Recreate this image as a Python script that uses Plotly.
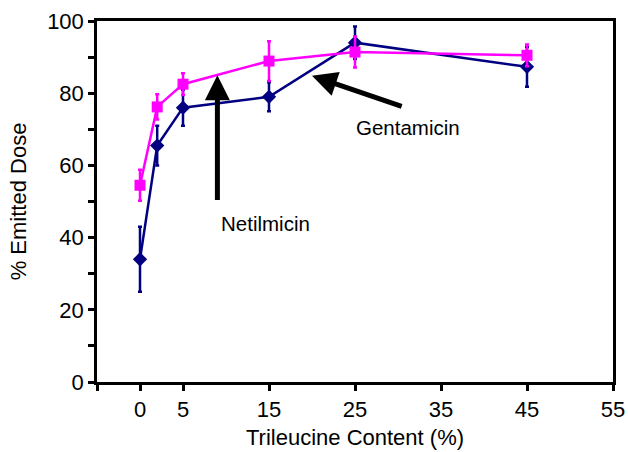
import plotly.graph_objects as go

trileucine = [0, 2, 5, 15, 25, 45]
gentamicin = [34, 65.5, 76, 79, 94, 87.3]
gentamicin_err = [9, 5.5, 5, 4, 4.5, 5.5]
netilmicin = [54.5, 76.2, 82.5, 88.9, 91.4, 90.5]
netilmicin_err = [4.3, 3.5, 3, 5.5, 4.3, 3]

x_tickvals = [-5, 0, 5, 15, 25, 35, 45, 55]
x_ticktext = ["", "0", "5", "15", "25", "35", "45", "55"]

FONT = "Liberation Sans, Arial, sans-serif"

fig = go.Figure()
fig.add_trace(go.Scatter(
    x=trileucine, y=gentamicin, mode="lines+markers", name="Gentamicin",
    line=dict(color="#000080", width=2.5),
    marker=dict(symbol="diamond", size=11, color="#000080"),
    error_y=dict(type="data", array=gentamicin_err, color="#000080", thickness=2.5, width=2),
))
fig.add_trace(go.Scatter(
    x=trileucine, y=netilmicin, mode="lines+markers", name="Netilmicin",
    line=dict(color="#FF00FF", width=2.5),
    marker=dict(symbol="square", size=11, color="#FF00FF"),
    error_y=dict(type="data", array=netilmicin_err, color="#FF00FF", thickness=2.5, width=2),
))

fig.add_annotation(x=9, y=85, ax=9, ay=50, xref="x", yref="y", axref="x", ayref="y",
                   showarrow=True, arrowhead=2, arrowsize=1, arrowwidth=5, arrowcolor="black", text="")
fig.add_annotation(x=20, y=84.8, ax=30.6, ay=76.2, xref="x", yref="y", axref="x", ayref="y",
                   showarrow=True, arrowhead=2, arrowsize=1, arrowwidth=5, arrowcolor="black", text="")
fig.add_annotation(x=14.6, y=44, xref="x", yref="y", text="Netilmicin", showarrow=False,
                   font=dict(size=20.5, color="black", family=FONT))
fig.add_annotation(x=31.2, y=70.6, xref="x", yref="y", text="Gentamicin", showarrow=False,
                   font=dict(size=20.5, color="black", family=FONT))

fig.update_layout(
    width=628, height=452,
    margin=dict(l=97, r=15, t=21, b=70, autoexpand=False),
    paper_bgcolor="white", plot_bgcolor="white",
    showlegend=False,
    font=dict(family=FONT, size=22, color="black"),
)
fig.update_xaxes(
    range=[-5, 55], tickvals=x_tickvals, ticktext=x_ticktext,
    showline=True, linecolor="black", linewidth=2.5, mirror=True,
    ticks="outside", ticklen=6, tickwidth=2.5, tickcolor="black",
    showgrid=False, zeroline=False, automargin=False,
    tickfont=dict(size=22),
    title=dict(text="Trileucine Content (%)", font=dict(size=22), standoff=9),
)
fig.update_yaxes(
    range=[0, 100], tickvals=[0, 20, 40, 60, 80, 100],
    showline=True, linecolor="black", linewidth=2.5, mirror=True,
    ticks="outside", ticklen=6, tickwidth=2.5, tickcolor="black",
    minor=dict(tickvals=[10, 30, 50, 70, 90], ticks="outside", ticklen=6, tickwidth=2.5, tickcolor="black"),
    showgrid=False, zeroline=False, automargin=False,
    tickfont=dict(size=22),
    title=dict(text="% Emitted Dose", font=dict(size=22), standoff=15),
)

fig.write_html(
    "out.html",
    config={"displayModeBar": False},
    post_script="document.body.style.margin='0';document.body.style.overflow='hidden';",
)
